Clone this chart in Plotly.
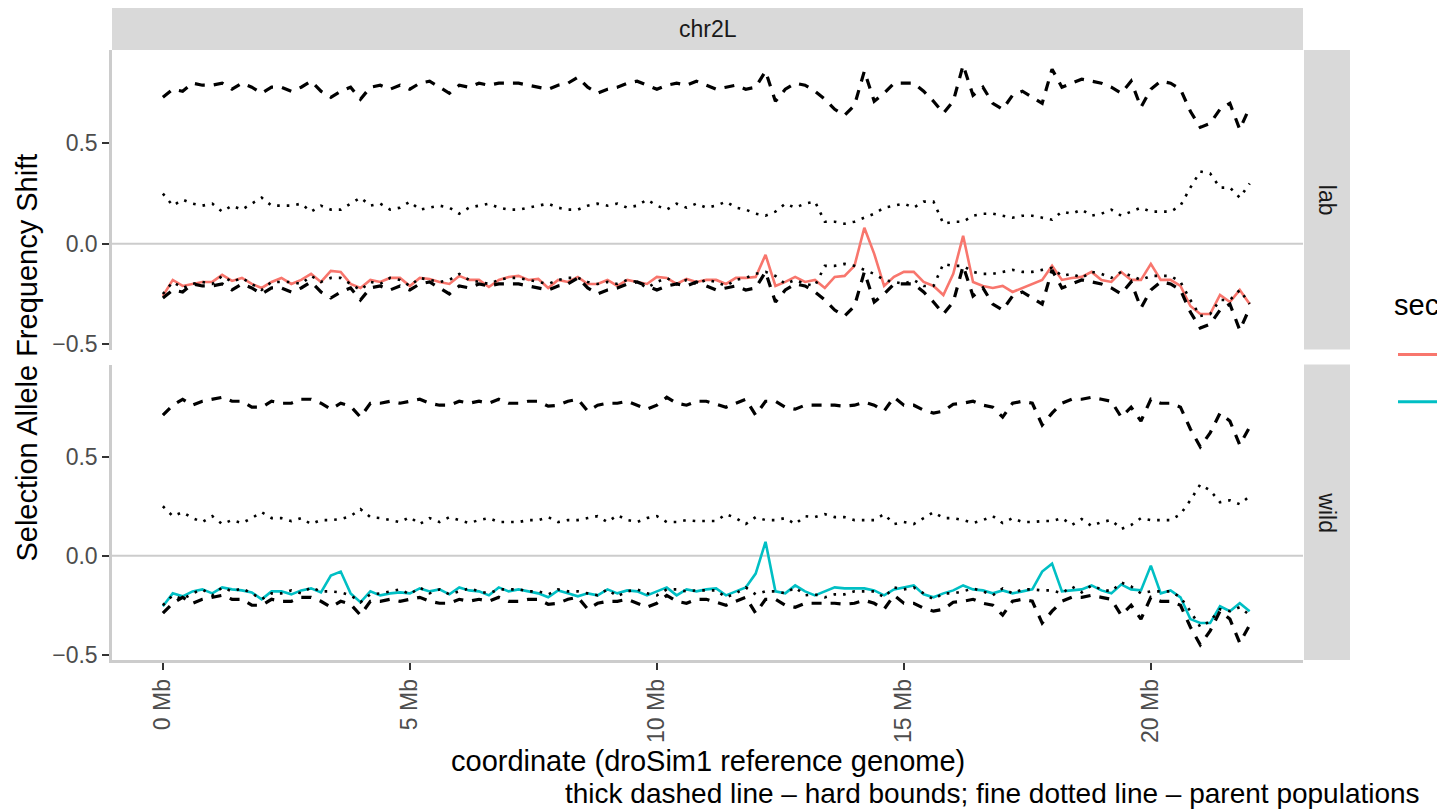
import plotly.graph_objects as go

W, H = 1437, 812
FONT = "Liberation Sans, Arial, Helvetica, sans-serif"
# the captured picture comes out ~1.15 % shorter than the layout; compensate vertical placement
VSCALE = 1 / 0.9885

# ---------------- data ----------------
positions_mb = [round(0.2 * i, 1) for i in range(111)]  # window centres, Mb

x_tick_vals = [0, 5, 10, 15, 20]
x_tick_text = ["0 Mb", "5 Mb", "10 Mb", "15 Mb", "20 Mb"]
y_tick_vals = [-0.5, 0.0, 0.5]
y_tick_text = ["\u22120.5", "0.0", "0.5"]

lab_upper_bound = [
    0.73, 0.77, 0.76, 0.80, 0.79, 0.79, 0.80, 0.77, 0.80, 0.78,
    0.75, 0.78, 0.78, 0.76, 0.78, 0.81, 0.76, 0.73, 0.76, 0.78,
    0.72, 0.78, 0.79, 0.77, 0.79, 0.77, 0.80, 0.81, 0.78, 0.75,
    0.79, 0.78, 0.80, 0.79, 0.80, 0.80, 0.80, 0.79, 0.78, 0.77,
    0.79, 0.80, 0.83, 0.78, 0.75, 0.77, 0.78, 0.80, 0.81, 0.79,
    0.77, 0.79, 0.80, 0.79, 0.81, 0.79, 0.77, 0.78, 0.79, 0.77,
    0.78, 0.86, 0.71, 0.77, 0.80, 0.79, 0.76, 0.72, 0.67, 0.64,
    0.69, 0.86, 0.71, 0.75, 0.80, 0.80, 0.80, 0.76, 0.71, 0.65,
    0.71, 0.89, 0.74, 0.78, 0.70, 0.67, 0.74, 0.76, 0.73, 0.70,
    0.87, 0.78, 0.80, 0.82, 0.81, 0.80, 0.78, 0.75, 0.81, 0.68,
    0.77, 0.81, 0.80, 0.77, 0.66, 0.58, 0.60, 0.67, 0.70, 0.57, 0.68,
]
lab_lower_bound = [
    -0.27, -0.23, -0.24, -0.20, -0.21, -0.21, -0.20, -0.23, -0.20, -0.22,
    -0.25, -0.22, -0.22, -0.24, -0.22, -0.19, -0.24, -0.27, -0.24, -0.22,
    -0.28, -0.22, -0.21, -0.23, -0.21, -0.23, -0.20, -0.19, -0.22, -0.25,
    -0.21, -0.22, -0.20, -0.21, -0.20, -0.20, -0.20, -0.21, -0.22, -0.23,
    -0.21, -0.20, -0.17, -0.22, -0.25, -0.23, -0.22, -0.20, -0.19, -0.21,
    -0.23, -0.21, -0.20, -0.21, -0.19, -0.21, -0.23, -0.22, -0.21, -0.23,
    -0.22, -0.14, -0.29, -0.23, -0.20, -0.21, -0.24, -0.28, -0.33, -0.36,
    -0.31, -0.14, -0.29, -0.25, -0.20, -0.20, -0.20, -0.24, -0.29, -0.35,
    -0.29, -0.11, -0.26, -0.22, -0.30, -0.33, -0.26, -0.24, -0.27, -0.30,
    -0.13, -0.22, -0.20, -0.18, -0.19, -0.20, -0.22, -0.25, -0.19, -0.32,
    -0.23, -0.19, -0.20, -0.23, -0.34, -0.42, -0.40, -0.33, -0.30, -0.43, -0.32,
]
lab_parent_upper = [
    0.25, 0.19, 0.22, 0.20, 0.19, 0.20, 0.16, 0.19, 0.17, 0.20,
    0.23, 0.19, 0.19, 0.19, 0.20, 0.16, 0.19, 0.17, 0.17, 0.20,
    0.23, 0.19, 0.20, 0.17, 0.18, 0.21, 0.17, 0.18, 0.19, 0.18,
    0.15, 0.18, 0.19, 0.20, 0.18, 0.17, 0.17, 0.18, 0.19, 0.20,
    0.18, 0.17, 0.17, 0.19, 0.20, 0.19, 0.20, 0.18, 0.19, 0.22,
    0.19, 0.17, 0.20, 0.18, 0.20, 0.18, 0.19, 0.21, 0.18, 0.17,
    0.15, 0.14, 0.16, 0.20, 0.18, 0.20, 0.21, 0.11, 0.11, 0.10,
    0.11, 0.13, 0.15, 0.18, 0.19, 0.20, 0.18, 0.21, 0.21, 0.10,
    0.11, 0.11, 0.14, 0.15, 0.15, 0.14, 0.13, 0.14, 0.14, 0.13,
    0.12, 0.16, 0.15, 0.17, 0.14, 0.15, 0.17, 0.14, 0.16, 0.18,
    0.16, 0.16, 0.16, 0.19, 0.28, 0.36, 0.35, 0.28, 0.28, 0.23, 0.30,
]
lab_parent_lower = [
    -0.25, -0.19, -0.22, -0.20, -0.19, -0.20, -0.16, -0.19, -0.17, -0.20,
    -0.23, -0.19, -0.19, -0.19, -0.20, -0.16, -0.19, -0.17, -0.17, -0.20,
    -0.23, -0.19, -0.20, -0.17, -0.18, -0.21, -0.17, -0.18, -0.19, -0.18,
    -0.15, -0.18, -0.19, -0.20, -0.18, -0.17, -0.17, -0.18, -0.19, -0.20,
    -0.18, -0.17, -0.17, -0.19, -0.20, -0.19, -0.20, -0.18, -0.19, -0.22,
    -0.19, -0.17, -0.20, -0.18, -0.20, -0.18, -0.19, -0.21, -0.18, -0.17,
    -0.15, -0.14, -0.16, -0.20, -0.18, -0.20, -0.21, -0.11, -0.11, -0.10,
    -0.11, -0.13, -0.15, -0.18, -0.19, -0.20, -0.18, -0.21, -0.21, -0.10,
    -0.11, -0.11, -0.14, -0.15, -0.15, -0.14, -0.13, -0.14, -0.14, -0.13,
    -0.12, -0.16, -0.15, -0.17, -0.14, -0.15, -0.17, -0.14, -0.16, -0.18,
    -0.16, -0.16, -0.16, -0.19, -0.28, -0.36, -0.35, -0.28, -0.28, -0.23, -0.30,
]
lab_selection = [
    -0.26, -0.18, -0.21, -0.20, -0.19, -0.19, -0.155, -0.185, -0.17, -0.20,
    -0.22, -0.19, -0.17, -0.20, -0.18, -0.15, -0.19, -0.135, -0.14, -0.20,
    -0.22, -0.18, -0.19, -0.17, -0.17, -0.21, -0.17, -0.175, -0.19, -0.20,
    -0.16, -0.18, -0.18, -0.215, -0.18, -0.165, -0.16, -0.18, -0.175, -0.22,
    -0.18, -0.19, -0.165, -0.20, -0.20, -0.18, -0.21, -0.18, -0.19, -0.20,
    -0.165, -0.17, -0.20, -0.175, -0.19, -0.18, -0.18, -0.20, -0.17, -0.17,
    -0.165, -0.055, -0.21, -0.19, -0.165, -0.19, -0.18, -0.22, -0.165, -0.16,
    -0.11, 0.08, -0.05, -0.21, -0.165, -0.14, -0.14, -0.19, -0.21, -0.255,
    -0.15, 0.04, -0.19, -0.21, -0.22, -0.21, -0.24, -0.22, -0.20, -0.18,
    -0.11, -0.18, -0.17, -0.165, -0.14, -0.18, -0.19, -0.14, -0.18, -0.18,
    -0.10, -0.18, -0.18, -0.21, -0.31, -0.35, -0.35, -0.255, -0.29, -0.23, -0.30,
]

wild_upper_bound = [
    0.71, 0.76, 0.79, 0.76, 0.78, 0.79, 0.80, 0.78, 0.78, 0.75,
    0.75, 0.78, 0.77, 0.77, 0.79, 0.79, 0.77, 0.74, 0.77, 0.755,
    0.70, 0.77, 0.77, 0.78, 0.77, 0.78, 0.79, 0.77, 0.76, 0.76,
    0.78, 0.77, 0.78, 0.77, 0.79, 0.77, 0.77, 0.78, 0.78, 0.755,
    0.76, 0.78, 0.79, 0.73, 0.76, 0.77, 0.77, 0.78, 0.76, 0.74,
    0.76, 0.80, 0.77, 0.76, 0.78, 0.78, 0.765, 0.75, 0.77, 0.79,
    0.71, 0.78, 0.78, 0.75, 0.74, 0.76, 0.76, 0.76, 0.76, 0.755,
    0.76, 0.775, 0.76, 0.73, 0.80, 0.76, 0.76, 0.735, 0.72, 0.73,
    0.765, 0.77, 0.78, 0.76, 0.75, 0.70, 0.77, 0.78, 0.77, 0.66,
    0.72, 0.77, 0.79, 0.79, 0.80, 0.79, 0.78, 0.70, 0.75, 0.68,
    0.79, 0.77, 0.77, 0.75, 0.64, 0.55, 0.62, 0.72, 0.68, 0.56, 0.65,
]
wild_lower_bound = [
    -0.29, -0.24, -0.21, -0.24, -0.22, -0.21, -0.20, -0.22, -0.22, -0.25,
    -0.25, -0.22, -0.23, -0.23, -0.21, -0.21, -0.23, -0.26, -0.23, -0.245,
    -0.30, -0.23, -0.23, -0.22, -0.23, -0.22, -0.21, -0.23, -0.24, -0.24,
    -0.22, -0.23, -0.22, -0.23, -0.21, -0.23, -0.23, -0.22, -0.22, -0.245,
    -0.24, -0.22, -0.21, -0.27, -0.24, -0.23, -0.23, -0.22, -0.24, -0.26,
    -0.24, -0.20, -0.23, -0.24, -0.22, -0.22, -0.235, -0.25, -0.23, -0.21,
    -0.29, -0.22, -0.22, -0.25, -0.26, -0.24, -0.24, -0.24, -0.24, -0.245,
    -0.24, -0.225, -0.24, -0.27, -0.20, -0.24, -0.24, -0.265, -0.28, -0.27,
    -0.235, -0.23, -0.22, -0.24, -0.25, -0.30, -0.23, -0.22, -0.23, -0.34,
    -0.28, -0.23, -0.21, -0.21, -0.20, -0.21, -0.22, -0.30, -0.25, -0.32,
    -0.21, -0.23, -0.23, -0.25, -0.36, -0.45, -0.38, -0.28, -0.32, -0.44, -0.35,
]
wild_parent_upper = [
    0.25, 0.20, 0.22, 0.19, 0.17, 0.20, 0.16, 0.18, 0.165, 0.19,
    0.22, 0.19, 0.19, 0.175, 0.19, 0.16, 0.18, 0.18, 0.185, 0.20,
    0.235, 0.195, 0.19, 0.18, 0.17, 0.195, 0.16, 0.19, 0.17, 0.195,
    0.18, 0.165, 0.18, 0.19, 0.17, 0.17, 0.17, 0.18, 0.18, 0.195,
    0.17, 0.18, 0.18, 0.19, 0.20, 0.17, 0.205, 0.18, 0.17, 0.19,
    0.20, 0.17, 0.17, 0.18, 0.175, 0.175, 0.175, 0.21, 0.19, 0.16,
    0.195, 0.18, 0.18, 0.19, 0.16, 0.20, 0.195, 0.21, 0.195, 0.195,
    0.18, 0.18, 0.18, 0.21, 0.16, 0.17, 0.16, 0.19, 0.22, 0.19,
    0.19, 0.18, 0.165, 0.18, 0.20, 0.165, 0.19, 0.17, 0.17, 0.175,
    0.175, 0.19, 0.155, 0.185, 0.15, 0.17, 0.18, 0.135, 0.155, 0.19,
    0.18, 0.18, 0.18, 0.21, 0.28, 0.36, 0.33, 0.27, 0.28, 0.26, 0.30,
]
wild_parent_lower = [
    -0.25, -0.20, -0.22, -0.19, -0.17, -0.20, -0.16, -0.18, -0.165, -0.19,
    -0.22, -0.19, -0.19, -0.175, -0.19, -0.16, -0.18, -0.18, -0.185, -0.20,
    -0.235, -0.195, -0.19, -0.18, -0.17, -0.195, -0.16, -0.19, -0.17, -0.195,
    -0.18, -0.165, -0.18, -0.19, -0.17, -0.17, -0.17, -0.18, -0.18, -0.195,
    -0.17, -0.18, -0.18, -0.19, -0.20, -0.17, -0.205, -0.18, -0.17, -0.19,
    -0.20, -0.17, -0.17, -0.18, -0.175, -0.175, -0.175, -0.21, -0.19, -0.16,
    -0.195, -0.18, -0.18, -0.19, -0.16, -0.20, -0.195, -0.21, -0.195, -0.195,
    -0.18, -0.18, -0.18, -0.21, -0.16, -0.17, -0.16, -0.19, -0.22, -0.19,
    -0.19, -0.18, -0.165, -0.18, -0.20, -0.165, -0.19, -0.17, -0.17, -0.175,
    -0.175, -0.19, -0.155, -0.185, -0.15, -0.17, -0.18, -0.135, -0.155, -0.19,
    -0.18, -0.18, -0.18, -0.21, -0.28, -0.36, -0.33, -0.27, -0.28, -0.26, -0.30,
]
wild_selection = [
    -0.255, -0.19, -0.205, -0.18, -0.17, -0.19, -0.16, -0.17, -0.175, -0.185,
    -0.22, -0.18, -0.18, -0.195, -0.175, -0.165, -0.185, -0.10, -0.08, -0.19,
    -0.235, -0.18, -0.20, -0.19, -0.185, -0.19, -0.165, -0.18, -0.17, -0.195,
    -0.16, -0.175, -0.18, -0.20, -0.16, -0.18, -0.17, -0.18, -0.19, -0.21,
    -0.175, -0.19, -0.205, -0.19, -0.20, -0.17, -0.19, -0.175, -0.18, -0.20,
    -0.18, -0.16, -0.20, -0.17, -0.18, -0.17, -0.165, -0.20, -0.18, -0.16,
    -0.09, 0.07, -0.18, -0.19, -0.15, -0.18, -0.20, -0.18, -0.16, -0.165,
    -0.165, -0.165, -0.175, -0.20, -0.17, -0.16, -0.15, -0.195, -0.21, -0.19,
    -0.175, -0.15, -0.17, -0.175, -0.19, -0.175, -0.19, -0.18, -0.17, -0.08,
    -0.04, -0.18, -0.175, -0.17, -0.15, -0.175, -0.19, -0.145, -0.17, -0.175,
    -0.05, -0.19, -0.175, -0.21, -0.32, -0.34, -0.34, -0.255, -0.28, -0.24, -0.28,
]

facet_rows = ["lab", "wild"]
series_colors = {"lab": "#F8766D", "wild": "#00BFC4"}
column_label = "chr2L"

# ---------------- figure ----------------
def fx(p):
    return p / W


def fy(p):
    return max(0.0, 1 - p * VSCALE / H)


fig = go.Figure()

panel_data = {
    "lab": (lab_selection, lab_upper_bound, lab_lower_bound, lab_parent_upper, lab_parent_lower),
    "wild": (wild_selection, wild_upper_bound, wild_lower_bound, wild_parent_upper, wild_parent_lower),
}
axes = {"lab": ("x", "y"), "wild": ("x2", "y2")}

for name in facet_rows:
    sel, ub, lb, pu, pl = panel_data[name]
    xa, ya = axes[name]
    fig.add_trace(go.Scatter(x=positions_mb, y=sel, mode="lines", xaxis=xa, yaxis=ya,
                             line=dict(color=series_colors[name], width=2.6),
                             name=name, showlegend=False))
    for vals in (ub, lb):
        fig.add_trace(go.Scatter(x=positions_mb, y=vals, mode="lines", xaxis=xa, yaxis=ya,
                                 line=dict(color="black", width=3.2, dash="10px,9px"),
                                 showlegend=False))
    for vals in (pu, pl):
        fig.add_trace(go.Scatter(x=positions_mb, y=vals, mode="lines", xaxis=xa, yaxis=ya,
                                 line=dict(color="black", width=2.6, dash="2.6px,7px"),
                                 showlegend=False))

x_dom = [fx(112), fx(1303)]
x_range = [-1.03, 23.08]
y_range = [-0.527, 0.965]

common_y = dict(range=y_range, tickvals=y_tick_vals, ticktext=y_tick_text,
                ticks="outside", ticklen=7, tickwidth=2, tickcolor="#333333",
                showline=True, linecolor="#CCCCCC", linewidth=2.5,
                showgrid=False, zeroline=False,
                tickfont=dict(family=FONT, size=23, color="#4D4D4D"))

fig.update_layout(
    width=W, height=H, autosize=False,
    margin=dict(l=0, r=0, t=0, b=0, pad=0),
    paper_bgcolor="white", plot_bgcolor="white",
    showlegend=False,
    font=dict(family=FONT),
    xaxis=dict(domain=x_dom, anchor="y", range=x_range, showticklabels=False,
               ticks="", showline=False, showgrid=False, zeroline=False),
    xaxis2=dict(domain=x_dom, anchor="y2", range=x_range, tickvals=x_tick_vals,
                ticktext=x_tick_text, tickangle=-90, ticks="outside", ticklen=7,
                tickwidth=2, tickcolor="#333333", showline=True, linecolor="#CCCCCC",
                linewidth=2.5, showgrid=False, zeroline=False,
                tickfont=dict(family=FONT, size=23, color="#4D4D4D")),
    yaxis=dict(domain=[fy(349), fy(50)], anchor="x", **common_y),
    yaxis2=dict(domain=[fy(659), fy(364)], anchor="x2", **common_y),
)

shapes = []
# zero reference lines
for xr, yr in (("x domain", "y"), ("x2 domain", "y2")):
    shapes.append(dict(type="line", xref=xr, yref=yr, x0=0, x1=1, y0=0, y1=0,
                       line=dict(color="#CCCCCC", width=2), layer="below"))
# strips
shapes.append(dict(type="rect", xref="paper", yref="paper", x0=fx(112), x1=fx(1303),
                   y0=fy(50), y1=fy(8), fillcolor="#D9D9D9", line=dict(width=0), layer="below"))
shapes.append(dict(type="rect", xref="paper", yref="paper", x0=fx(1304), x1=fx(1350),
                   y0=fy(349), y1=fy(50), fillcolor="#D9D9D9", line=dict(width=0), layer="below"))
shapes.append(dict(type="rect", xref="paper", yref="paper", x0=fx(1304), x1=fx(1350),
                   y0=fy(659), y1=fy(364), fillcolor="#D9D9D9", line=dict(width=0), layer="below"))
# legend keys (legend is cut off by the canvas edge)
for name, ypx in (("lab", 354), ("wild", 401)):
    shapes.append(dict(type="line", xref="paper", yref="paper", x0=fx(1398), x1=fx(1445),
                       y0=fy(ypx), y1=fy(ypx), line=dict(color=series_colors[name], width=3)))
fig.update_layout(shapes=shapes)

ann = []
ann.append(dict(text=column_label, x=fx(707.5), y=fy(29), xref="paper", yref="paper",
                showarrow=False, xanchor="center", yanchor="middle",
                font=dict(family=FONT, size=23, color="#1A1A1A")))
ann.append(dict(text="lab", x=fx(1327), y=fy(199.5), xref="paper", yref="paper",
                showarrow=False, xanchor="center", yanchor="middle", textangle=90,
                font=dict(family=FONT, size=23, color="#1A1A1A")))
ann.append(dict(text="wild", x=fx(1327), y=fy(511.5), xref="paper", yref="paper",
                showarrow=False, xanchor="center", yanchor="middle", textangle=90,
                font=dict(family=FONT, size=23, color="#1A1A1A")))
ann.append(dict(text="Selection Allele Frequency Shift", x=fx(27), y=fy(357), xref="paper",
                yref="paper", showarrow=False, xanchor="center", yanchor="middle",
                textangle=-90, font=dict(family=FONT, size=29, color="black")))
ann.append(dict(text="coordinate (droSim1 reference genome)", x=fx(707.5), y=fy(760),
                xref="paper", yref="paper", showarrow=False, xanchor="center",
                yanchor="middle", font=dict(family=FONT, size=29, color="black")))
ann.append(dict(text="thick dashed line \u2013 hard bounds; fine dotted line \u2013 parent populations",
                x=fx(1422), y=1 - 801.0 / H, xref="paper", yref="paper", showarrow=False,
                xanchor="right", yanchor="middle", font=dict(family=FONT, size=28, color="black")))
ann.append(dict(text="sec", x=fx(1392), y=fy(304), xref="paper", yref="paper",
                showarrow=False, xanchor="left", yanchor="middle",
                font=dict(family=FONT, size=29, color="black")))
fig.update_layout(annotations=ann)

fig.write_html("out.html", default_width="1437px", default_height="812px",
               config={"responsive": False})
